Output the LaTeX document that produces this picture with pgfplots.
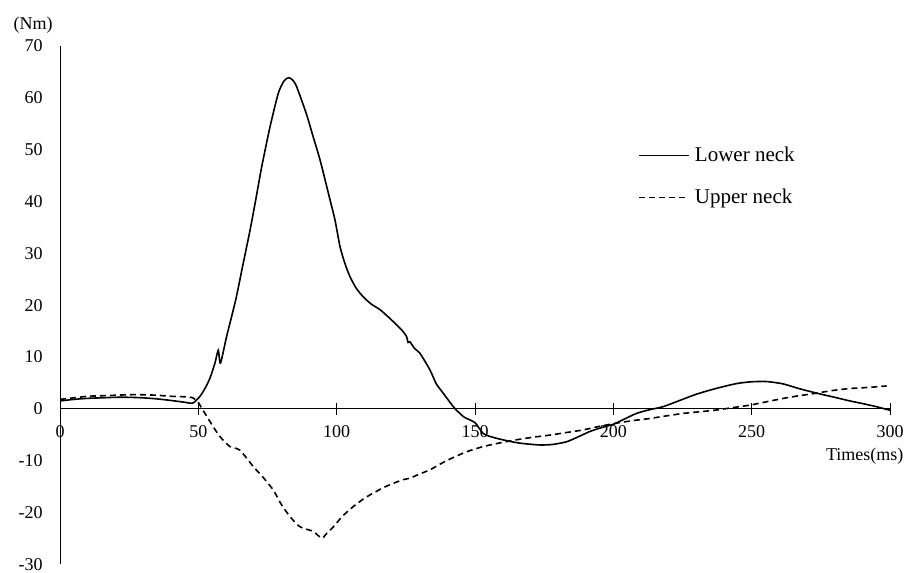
\documentclass[border=0pt]{standalone}
\usepackage{fontspec}
\setmainfont{Liberation Serif}
\usepackage{pgfplots}
\pgfplotsset{compat=1.18}
\begin{document}
\begin{tikzpicture}
\begin{axis}[
  scale only axis, width=415pt, height=259pt,
  xmin=0, xmax=300, ymin=-30, ymax=70,
  axis x line=middle, axis y line=left,
  axis line style={-, line width=0.5pt, black},
  hide obscured x ticks=false,
  xtick={0,50,...,300}, ytick={-30,-20,...,70},
  x tick style={line width=0.5pt, black}, tick align=center,
  major tick length=6pt,
  y tick style={draw=none},
  /pgf/number format/assume math mode=true,
  tick label style={font=\fontsize{9}{10}\selectfont},
  xticklabel style={anchor=north, inner sep=0pt, yshift=-5pt},
  yticklabel style={anchor=east, inner sep=0pt, xshift=-5.5pt},
  clip=false,
  legend style={draw=none, fill=none, at={(axis cs:208.9,52.99)}, anchor=north west,
    inner sep=0pt, column sep=2.5pt, row sep=0pt,
    font=\fontsize{10.5}{12}\selectfont,
    nodes={minimum height=21pt, inner sep=0pt}},
  legend cell align=left,
  legend image code/.code={\draw[#1] (0pt,0pt) -- (25pt,0pt);},
]
\addplot[black, line width=0.8pt, smooth, tension=0.4] coordinates {
(0,1.5) (5,1.8) (10,2.0) (15,2.1) (20,2.2) (25,2.2) (30,2.1) (35,1.9) (40,1.6)
(45,1.25) (48,1.1) (50.6,2.4) (52.5,4.0) (54.2,5.9) (56,8.8) (57.2,11.3) (58,8.8)
(60.2,13.9) (63.5,21.0) (66,27.5) (68.7,34.5) (70.8,40.5) (72.9,46.7) (75.9,54.4)
(78.9,60.9) (81,63.3) (82.6,63.9) (84,63.5) (85.5,62.2) (89,57) (91.5,52.5) (94,48)
(97.6,40.3) (99.4,36.4) (101.2,31.3) (103,28) (104.8,25.5) (107,23.3) (109.6,21.6)
(112.5,20.2) (115.7,19.1) (119.3,17.4) (123.5,15.2) (125.2,14.0) (125.8,12.8) (126.5,12.9)
(128.2,11.6) (130.1,10.7) (133.7,7.5) (136,4.8) (138.5,3.0) (141,1.2) (142.8,0) (146,-1.6)
(150,-2.7) (153,-4.8) (157,-5.6) (162.6,-6.3) (167,-6.7) (173.5,-7.0) (178,-6.9) (183,-6.4)
(187,-5.5) (191.5,-4.4) (196,-3.6) (200,-3.0) (204,-2.0) (208.4,-0.9) (213,-0.2) (218,0.4)
(225,1.8) (230,2.8) (235,3.6) (240,4.3) (245,4.9) (250,5.2) (255.3,5.25) (261.3,4.8) (267,3.9)
(273.5,3.0) (280,2.2) (285.5,1.5) (290,1.0) (295,0.4) (300,-0.3)
};
\addlegendentry{Lower neck}
\addplot[black, line width=0.8pt, dash pattern=on 3pt off 2pt, smooth, tension=0.4] coordinates {
(0,1.8) (5,2.1) (10,2.4) (15,2.5) (20,2.6) (25,2.7) (30,2.7) (35,2.6) (40,2.4) (45,2.3)
(48,2.1) (50,1.2) (51,0.3) (55.4,-3.5) (58,-5.5) (61.4,-7.3) (65,-8) (69.9,-11.2) (73,-13)
(77.1,-15.7) (80,-18.5) (83.1,-20.8) (86,-22.5) (88,-23.1) (91.6,-23.7) (94.6,-25) (96.5,-24)
(98.8,-22.8) (102,-20.8) (106,-18.9) (110,-17.3) (113.2,-16.3) (117,-15.2) (120.5,-14.4)
(124,-13.7) (126.5,-13.4) (130,-12.6) (133.7,-11.8) (137,-10.8) (141,-9.7) (147,-8.3)
(153,-7.3) (159,-6.6) (165,-6.0) (171,-5.5) (177,-5.1) (183,-4.6) (189,-4.1) (195,-3.4)
(201,-2.8) (207,-2.3) (213,-1.9) (219,-1.4) (225.3,-0.9) (231,-0.6) (237.3,-0.25) (243,0.2)
(249.4,0.7) (255,1.3) (261.5,2.0) (267,2.5) (273.5,3.0) (279,3.5) (285.5,3.9) (292,4.1) (298.8,4.4)
};
\addlegendentry{Upper neck}
\node[anchor=center, inner sep=0pt, font=\fontsize{9}{10}\selectfont] at (axis cs:-9.76,74.0) {(Nm)};
\node[anchor=east, inner sep=0pt, font=\fontsize{9}{10}\selectfont] at (axis cs:305,-9.2) {Times(ms)};
\coordinate (bbl) at (axis cs:-21.69,-31.53);
\coordinate (btr) at (axis cs:306.14,78.9);
\end{axis}
\pgfresetboundingbox
\useasboundingbox (bbl) rectangle (btr);
\end{tikzpicture}
\end{document}
